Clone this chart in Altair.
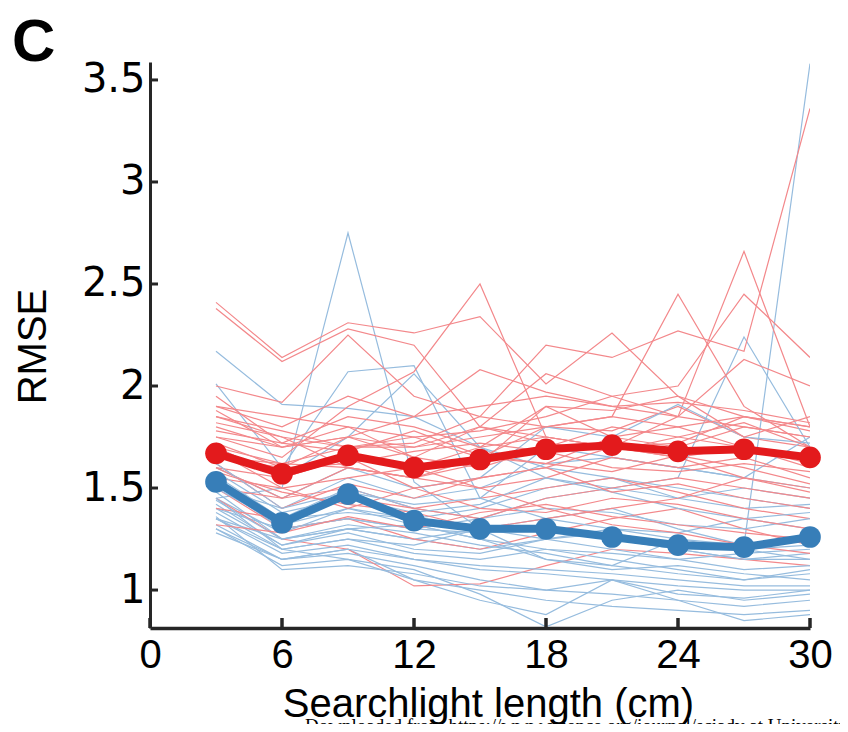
import altair as alt
import pandas as pd

# ---------------- data ----------------
x_cm = [3, 6, 9, 12, 15, 18, 21, 24, 27, 30]

red_mean = [1.67, 1.57, 1.66, 1.60, 1.64, 1.69, 1.71, 1.68, 1.69, 1.65]
blue_mean = [1.53, 1.33, 1.47, 1.34, 1.30, 1.30, 1.26, 1.22, 1.21, 1.26]

red_subjects = [
    [2.41, 2.14, 2.31, 2.26, 2.34, 2.01, 2.26, 1.95, 1.85, 1.80],
    [2.38, 2.12, 2.28, 2.20, 1.80, 1.75, 1.70, 1.72, 1.85, 1.78],
    [2.00, 1.92, 2.25, 1.95, 1.85, 1.80, 1.78, 1.90, 1.75, 1.70],
    [1.75, 1.65, 1.90, 2.07, 2.50, 1.75, 1.70, 1.65, 1.70, 1.60],
    [1.80, 1.70, 1.75, 1.85, 2.08, 1.97, 1.90, 1.85, 1.80, 1.75],
    [1.85, 1.78, 1.70, 1.72, 1.85, 2.20, 2.14, 2.27, 2.17, 3.36],
    [1.70, 1.62, 1.60, 1.55, 1.65, 1.80, 1.85, 2.45, 1.90, 1.70],
    [1.60, 1.55, 1.65, 1.60, 1.70, 1.75, 1.70, 1.85, 2.66, 1.80],
    [1.90, 1.85, 1.80, 1.75, 1.78, 1.85, 1.95, 2.00, 2.45, 2.14],
    [1.65, 1.60, 1.75, 1.70, 1.80, 2.06, 1.95, 1.85, 2.13, 2.00],
    [1.45, 1.25, 1.20, 1.02, 1.03, 1.12, 1.20, 1.18, 1.15, 1.12],
    [1.50, 1.30, 1.35, 1.25, 1.20, 1.28, 1.35, 1.40, 1.30, 1.22],
    [1.60, 1.45, 1.50, 1.40, 1.45, 1.50, 1.55, 1.48, 1.40, 1.35],
    [1.70, 1.55, 1.65, 1.50, 1.55, 1.60, 1.70, 1.65, 1.55, 1.50],
    [1.75, 1.70, 1.80, 1.65, 1.60, 1.70, 1.80, 1.75, 1.70, 1.65],
    [1.85, 1.75, 1.70, 1.70, 1.75, 1.80, 1.85, 1.80, 1.85, 1.80],
    [1.78, 1.72, 1.85, 1.80, 1.70, 1.90, 1.88, 1.95, 1.75, 1.85],
    [1.65, 1.62, 1.70, 1.75, 1.65, 1.62, 1.75, 1.70, 1.80, 1.75],
    [1.55, 1.50, 1.55, 1.60, 1.50, 1.55, 1.65, 1.60, 1.65, 1.55],
    [1.40, 1.35, 1.45, 1.40, 1.35, 1.45, 1.50, 1.55, 1.50, 1.45],
    [1.90, 1.80, 1.95, 1.85, 1.90, 1.95, 1.90, 1.92, 1.88, 1.82],
    [1.72, 1.60, 1.62, 1.68, 1.72, 1.68, 1.60, 1.58, 1.62, 1.58],
    [1.82, 1.75, 1.60, 1.55, 1.62, 1.90, 1.75, 1.80, 1.70, 1.62],
    [1.62, 1.40, 1.52, 1.45, 1.55, 1.60, 1.48, 1.52, 1.45, 1.40],
    [1.68, 1.50, 1.40, 1.50, 1.40, 1.38, 1.45, 1.42, 1.35, 1.30],
    [1.50, 1.45, 1.60, 1.55, 1.50, 1.40, 1.32, 1.28, 1.22, 1.18],
    [1.88, 1.70, 1.75, 1.65, 1.80, 1.72, 1.68, 1.75, 1.82, 1.70],
    [1.58, 1.48, 1.42, 1.38, 1.30, 1.35, 1.40, 1.45, 1.55, 1.48],
    [1.32, 1.28, 1.36, 1.30, 1.38, 1.42, 1.36, 1.32, 1.28, 1.25],
    [1.95, 1.72, 1.68, 1.78, 1.66, 1.62, 1.58, 1.66, 1.60, 1.52],
]

blue_subjects = [
    [1.45, 1.50, 2.75, 1.53, 1.30, 1.30, 1.25, 1.20, 1.15, 1.18],
    [2.17, 1.91, 1.89, 1.85, 1.70, 1.60, 1.55, 1.50, 1.45, 1.40],
    [2.01, 1.60, 2.07, 2.10, 1.45, 1.70, 1.65, 1.60, 1.55, 1.50],
    [1.70, 1.55, 1.75, 2.06, 1.70, 1.55, 1.50, 1.45, 1.40, 1.42],
    [1.40, 1.30, 1.35, 1.30, 1.35, 1.45, 1.50, 1.55, 2.24, 1.70],
    [1.35, 1.25, 1.30, 1.25, 1.30, 1.35, 1.40, 1.30, 1.22, 3.58],
    [1.35, 1.20, 1.15, 1.10, 0.98, 0.82, 0.95, 1.00, 0.95, 0.98],
    [1.30, 1.15, 1.20, 1.05, 0.95, 0.88, 1.05, 0.95, 0.85, 0.88],
    [1.60, 1.45, 1.60, 1.50, 1.55, 1.80, 1.75, 1.91, 1.75, 1.72],
    [1.50, 1.40, 1.55, 1.45, 1.50, 1.62, 1.65, 1.60, 1.55, 1.75],
    [1.45, 1.28, 1.40, 1.35, 1.40, 1.50, 1.55, 1.45, 1.50, 1.45],
    [1.42, 1.22, 1.30, 1.25, 1.20, 1.25, 1.30, 1.28, 1.35, 1.30],
    [1.38, 1.20, 1.25, 1.18, 1.15, 1.20, 1.15, 1.10, 1.05, 1.10],
    [1.35, 1.18, 1.22, 1.15, 1.10, 1.08, 1.05, 1.02, 1.00, 1.00],
    [1.32, 1.15, 1.18, 1.12, 1.05, 1.00, 0.98, 0.95, 0.92, 0.95],
    [1.30, 1.12, 1.15, 1.05, 1.00, 0.95, 0.92, 0.90, 0.88, 0.90],
    [1.48, 1.25, 1.32, 1.28, 1.22, 1.18, 1.12, 1.08, 1.05, 1.08],
    [1.52, 1.30, 1.35, 1.30, 1.28, 1.30, 1.25, 1.20, 1.15, 1.15],
    [1.40, 1.22, 1.28, 1.20, 1.18, 1.25, 1.20, 1.15, 1.18, 1.20],
    [1.55, 1.35, 1.50, 1.40, 1.35, 1.40, 1.38, 1.32, 1.30, 1.35],
    [1.58, 1.38, 1.45, 1.38, 1.42, 1.55, 1.48, 1.40, 1.35, 1.38],
    [1.45, 1.20, 1.25, 1.22, 1.30, 1.15, 1.10, 1.12, 1.08, 1.05],
    [1.36, 1.10, 1.12, 1.08, 1.02, 1.00, 1.05, 0.98, 0.96, 1.00],
    [1.28, 1.15, 1.20, 1.15, 1.12, 1.10, 1.08, 1.05, 1.02, 1.02],
    [1.50, 1.32, 1.40, 1.32, 1.25, 1.20, 1.18, 1.15, 1.10, 1.12],
    [1.62, 1.40, 1.48, 1.42, 1.45, 1.35, 1.30, 1.25, 1.22, 1.25],
    [1.44, 1.25, 1.30, 1.32, 1.25, 1.15, 1.12, 1.25, 1.20, 1.15],
    [1.56, 1.35, 1.38, 1.35, 1.30, 1.25, 1.28, 1.22, 1.20, 1.22],
]

x_ticks = [0, 6, 12, 18, 24, 30]
y_ticks = [1, 1.5, 2, 2.5, 3, 3.5]
panel_label = ["C"]
x_title = "Searchlight length (cm)"
y_title = "RMSE"
footer_text = ["Downloaded from https://www.science.org/journal/sciadv at University Hospital"]

# ---------------- tables ----------------
rows = []
n = max(len(red_subjects), len(blue_subjects))
for i in range(n):
    if i < len(blue_subjects):
        for x, v in zip(x_cm, blue_subjects[i]):
            rows.append({"x": x, "rmse": v, "id": f"b{i:02d}", "group": "blue"})
    if i < len(red_subjects):
        for x, v in zip(x_cm, red_subjects[i]):
            rows.append({"x": x, "rmse": v, "id": f"r{i:02d}", "group": "red"})
thin = pd.DataFrame(rows)

means = pd.DataFrame(
    [{"x": x, "rmse": v, "group": "red mean"} for x, v in zip(x_cm, red_mean)]
    + [{"x": x, "rmse": v, "group": "blue mean"} for x, v in zip(x_cm, blue_mean)]
)

# total chart = 142 + 660 + 30 = 832 wide, 54 + 566 + 96 = 716 tall (fits 848x732 page with 8px margin)
W, H = 660, 566
AXIS_COLOR = "#262626"
xs = alt.Scale(domain=[0, 30], nice=False, zero=False)
ys = alt.Scale(domain=[0.814, 3.588], nice=False, zero=False)

color = alt.Color(
    "group:N",
    scale=alt.Scale(
        domain=["blue", "red", "blue mean", "red mean"],
        range=["#96bcde", "#f3888b", "#377eb8", "#e31a1c"],
    ),
    legend=None,
)

x_axis = alt.Axis(
    values=x_ticks, ticks=False, grid=False, domainColor=AXIS_COLOR, domainWidth=3.5,
    labelFont="Liberation Sans", labelFontSize=40, labelColor="black", labelPadding=7,
    labelFlush=False, labelOverlap=False,
    title=x_title, titleFont="Liberation Sans", titleFontSize=40, titleFontWeight="normal",
    titleColor="black", titleX=338, titleY=88, titleBaseline="alphabetic", titleAlign="center",
)
y_axis = alt.Axis(
    values=y_ticks, format="~g", ticks=False, grid=False, domainColor=AXIS_COLOR, domainWidth=3,
    labelFont="DejaVu Sans", labelFontSize=40, labelColor="black", labelPadding=5,
    labelFlush=False, labelOverlap=False,
    title=y_title, titleFont="Liberation Sans", titleFontSize=40, titleFontWeight="normal",
    titleColor="black", titleAngle=270, titleX=-105, titleY=284, titleBaseline="alphabetic",
    titleAlign="center",
)

X = alt.X("x:Q", scale=xs, axis=x_axis)
Y = alt.Y("rmse:Q", scale=ys, axis=y_axis)

thin_lines = alt.Chart(thin).mark_line(strokeWidth=1.2, clip=True).encode(
    x=X, y=Y, detail="id:N", color=color, order=alt.Order("x:Q"),
)
bold_lines = alt.Chart(means).mark_line(strokeWidth=8).encode(x=X, y=Y, color=color)
bold_points = alt.Chart(means).mark_circle(size=470, opacity=1).encode(x=X, y=Y, color=color)

ytick_marks = alt.Chart(pd.DataFrame({"rmse": y_ticks})).mark_rule(color=AXIS_COLOR, strokeWidth=3).encode(
    y=Y, x=alt.value(0), x2=alt.value(8)
)
xtick_marks = alt.Chart(pd.DataFrame({"x": x_ticks})).mark_rule(color=AXIS_COLOR, strokeWidth=3.5).encode(
    x=X, y=alt.value(H), y2=alt.value(H - 10)
)

label_c = alt.Chart(pd.DataFrame({"t": panel_label})).mark_text(
    font="Liberation Sans", fontSize=60, fontWeight="bold", align="left", baseline="alphabetic", color="black"
).encode(x=alt.value(-138), y=alt.value(-1), text="t:N")

footer = alt.Chart(pd.DataFrame({"t": footer_text})).mark_text(
    font="Liberation Serif", fontSize=19, align="left", baseline="alphabetic", color="black"
).encode(x=alt.value(155), y=alt.value(H + 104), text="t:N")

chart = alt.layer(
    thin_lines, bold_lines, bold_points, ytick_marks, xtick_marks, label_c, footer
).properties(
    width=W, height=H,
    autosize=alt.AutoSizeParams(type="none"),
    padding={"left": 142, "top": 54, "right": 30, "bottom": 96},
).configure_view(stroke=None)

chart.save("out.html", embed_options={"renderer": "svg", "actions": False})
